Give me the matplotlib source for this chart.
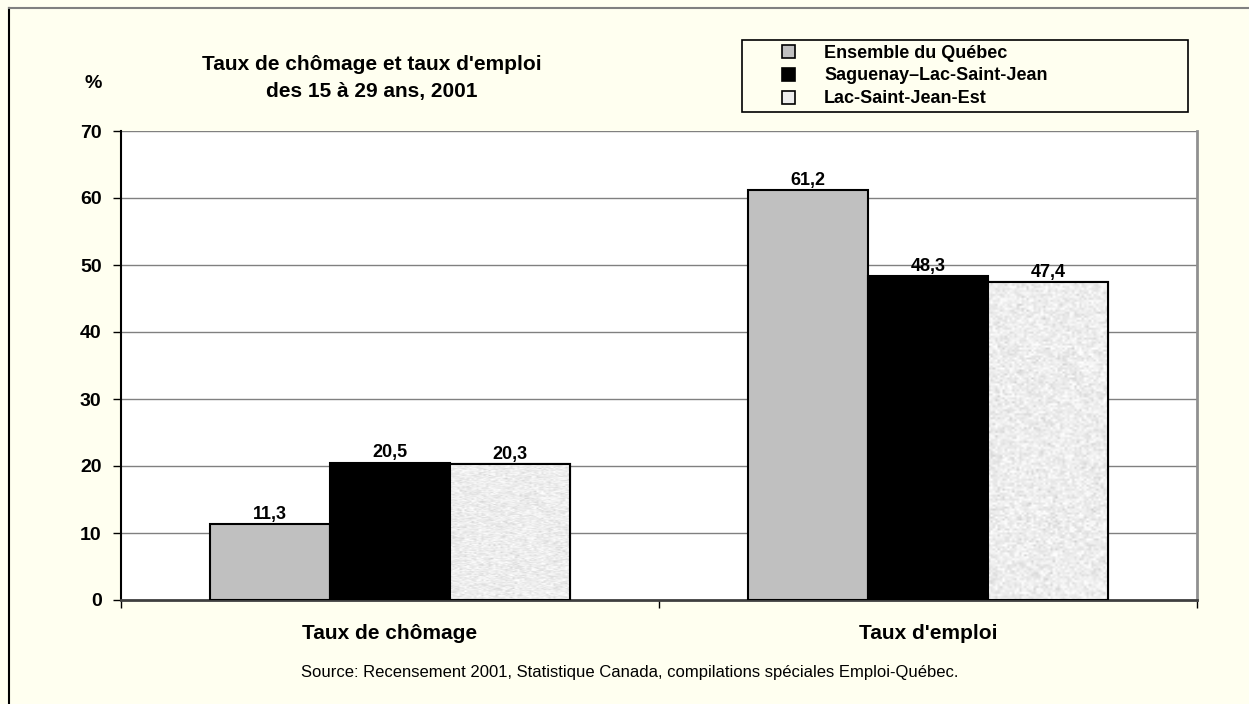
import matplotlib
matplotlib.use("Agg")
import matplotlib.pyplot as plt
from matplotlib.patches import Rectangle
from matplotlib.legend_handler import HandlerPatch
import numpy as np

plt.rcParams['font.family'] = ['Liberation Sans', 'DejaVu Sans']

categories = ["Taux de chômage", "Taux d'emploi"]
series = ["Ensemble du Québec", "Saguenay\u2013Lac-Saint-Jean", "Lac-Saint-Jean-Est"]
quebec = [11.3, 61.2]
saguenay = [20.5, 48.3]
lsj_est = [20.3, 47.4]
values = [quebec, saguenay, lsj_est]
colors = ['#C0C0C0', '#000000', '#EDEDED']

bg = '#FFFFF0'
fig = plt.figure(figsize=(12.49, 7.04), dpi=100, facecolor=bg)
ax = fig.add_axes([121/1249, 1 - 600/704, 1076/1249, 469/704])
ax.set_facecolor('white')

x = np.arange(len(categories))
w = 0.223
# speckled texture for the third series
rng = np.random.default_rng(3)
tex = 0.93 + 0.04 * rng.standard_normal((160, 50))
for i, (vals, col) in enumerate(zip(values, colors)):
    pos = x + (i - 1) * w
    bars = ax.bar(pos, vals, width=w, color=col, edgecolor='black', linewidth=1.5, zorder=3)
    if i == 2:
        for b in bars:
            im = ax.imshow(tex, cmap='gray', vmin=0, vmax=1, aspect='auto', zorder=3.5,
                           extent=[b.get_x(), b.get_x() + b.get_width(), 0, b.get_height()],
                           interpolation='bilinear')
            im.set_clip_path(b)
            ax.add_patch(Rectangle((b.get_x(), 0), b.get_width(), b.get_height(),
                                   fill=False, edgecolor='black', linewidth=1.5, zorder=4))
    for p, v in zip(pos, vals):
        ax.text(p, v + 0.2, f"{v:.1f}".replace('.', ','), ha='center', va='bottom',
                fontsize=13, fontweight='bold', zorder=5)

ax.set_xlim(-0.5, 1.5)
ax.set_ylim(0, 70)
ax.set_yticks(range(0, 71, 10))
ax.yaxis.grid(True, color='#808080', linewidth=1)
ax.set_axisbelow(True)
ax.set_xticks([-0.5, 0.5, 1.5])
ax.set_xticklabels([])
ax.tick_params(axis='x', direction='out', length=6, width=1, colors='black')
ax.tick_params(axis='y', direction='out', length=6, width=1, pad=8, labelsize=14)
for lab in ax.get_yticklabels():
    lab.set_fontweight('bold')
ax.spines['top'].set_visible(False)
ax.spines['right'].set_color('#909090')
ax.spines['right'].set_linewidth(2)
ax.spines['left'].set_linewidth(1.5)
ax.spines['bottom'].set_color('#404040')
ax.spines['bottom'].set_linewidth(2)

for xi, c in zip(x, categories):
    ax.text(xi, -0.072, c, transform=ax.get_xaxis_transform(), ha='center', va='center',
            fontsize=15, fontweight='bold')

fig.text(372/1249, 1 - 78/704, "Taux de chômage et taux d'emploi\ndes 15 à 29 ans, 2001",
         ha='center', va='center', fontsize=15, fontweight='bold', linespacing=1.5)
fig.text(93/1249, 1 - 84/704, "%", ha='center', va='center', fontsize=14, fontweight='bold')
fig.text(630/1249, 1 - 672/704,
         "Source: Recensement 2001, Statistique Canada, compilations spéciales Emploi-Québec.",
         ha='center', va='center', fontsize=12)


class SquareRight(HandlerPatch):
    def create_artists(self, legend, orig_handle, xdescent, ydescent, width, height,
                       fontsize, trans):
        s = height * 1.0
        p = Rectangle((width - s - xdescent, -ydescent), s, s,
                      facecolor=orig_handle.get_facecolor(), edgecolor='black',
                      linewidth=1.2, transform=trans)
        return [p]


handles = [Rectangle((0, 0), 1, 1, facecolor=c, edgecolor='black') for c in colors]
leg = fig.legend(handles, series, loc='upper left',
                 bbox_to_anchor=(742/1249, 1 - 40/704, 446/1249, 0), mode='expand',
                 frameon=True, fancybox=False, edgecolor='black', facecolor=bg, framealpha=1,
                 prop={'weight': 'bold', 'size': 13}, handlelength=2.7, handleheight=0.75,
                 borderpad=0.25, labelspacing=0.33, handletextpad=1.6, borderaxespad=0,
                 handler_map={Rectangle: SquareRight()})
leg.get_frame().set_linewidth(1.2)

# figure frame
fig.add_artist(plt.Line2D([9/1249, 9/1249], [0, 1 - 8/704], transform=fig.transFigure,
                          color='black', linewidth=1.5))
fig.add_artist(plt.Line2D([9/1249, 1], [1 - 8/704, 1 - 8/704], transform=fig.transFigure,
                          color='#808080', linewidth=1.5))

fig.savefig('out.png', dpi=100, facecolor=bg)
